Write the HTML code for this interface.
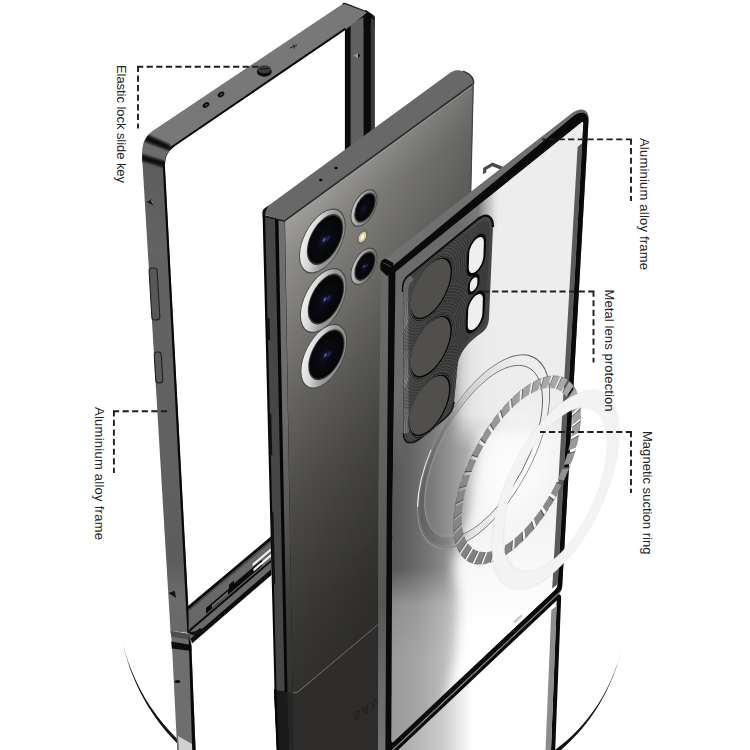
<!DOCTYPE html>
<html><head><meta charset="utf-8"><title>Case parts</title>
<style>
html,body{margin:0;padding:0;background:#fff;}
body{width:750px;height:750px;overflow:hidden;}
svg{display:block;}
text{font-family:"Liberation Sans",sans-serif;fill:#242424;}
</style></head><body>
<svg width="750" height="750" viewBox="0 0 750 750">
<defs>
<linearGradient id="gLeftBar" x1="0" y1="150" x2="0" y2="632" gradientUnits="userSpaceOnUse">
 <stop offset="0" stop-color="#5c5c5c"/><stop offset="0.2" stop-color="#626262"/><stop offset="0.62" stop-color="#616161"/><stop offset="0.85" stop-color="#5c5c5c"/><stop offset="0.93" stop-color="#6c6c6c"/><stop offset="1" stop-color="#686868"/>
</linearGradient>
<linearGradient id="gBack" x1="0" y1="0" x2="0" y2="470" gradientUnits="userSpaceOnUse">
 <stop offset="0.000" stop-color="#a2a19e"/><stop offset="0.047" stop-color="#969592"/><stop offset="0.085" stop-color="#8d8c89"/><stop offset="0.119" stop-color="#8a8986"/><stop offset="0.245" stop-color="#797875"/><stop offset="0.394" stop-color="#646360"/><stop offset="0.611" stop-color="#4c4b48"/><stop offset="0.870" stop-color="#383734"/><stop offset="1.000" stop-color="#32312e"/>
</linearGradient>
<linearGradient id="gChamfer" x1="0" y1="220" x2="0" y2="690" gradientUnits="userSpaceOnUse">
 <stop offset="0" stop-color="#707070"/><stop offset="0.4" stop-color="#6c6c6c"/><stop offset="0.6" stop-color="#5a5a5a"/><stop offset="0.81" stop-color="#3c3c3c"/><stop offset="1" stop-color="#323232"/>
</linearGradient>
<linearGradient id="gBackO" x1="0" y1="0" x2="245" y2="0" gradientUnits="userSpaceOnUse">
 <stop offset="0" stop-color="#000" stop-opacity="0"/><stop offset="1" stop-color="#000" stop-opacity="0.306"/>
</linearGradient>
<linearGradient id="gCaseHi" x1="392" y1="0" x2="584" y2="0" gradientUnits="userSpaceOnUse">
 <stop offset="0" stop-color="#565656"/><stop offset="0.105" stop-color="#666"/><stop offset="0.21" stop-color="#7b7b7b"/><stop offset="0.276" stop-color="#8c8c8c"/><stop offset="0.333" stop-color="#9b9b9b"/><stop offset="0.43" stop-color="#b6b6b6"/><stop offset="0.56" stop-color="#d4d4d4"/><stop offset="1" stop-color="#e4e4e4"/>
</linearGradient>
<linearGradient id="gCaseLo" x1="392" y1="0" x2="584" y2="0" gradientUnits="userSpaceOnUse">
 <stop offset="0" stop-color="#9a9a9a"/><stop offset="0.14" stop-color="#a5a5a5"/><stop offset="0.245" stop-color="#b6b6b6"/><stop offset="0.315" stop-color="#c4c4c4"/><stop offset="0.42" stop-color="#d6d6d6"/><stop offset="1" stop-color="#e8e8e8"/>
</linearGradient>
<linearGradient id="gMaskLo" x1="0" y1="568" x2="0" y2="655" gradientUnits="userSpaceOnUse">
 <stop offset="0" stop-color="#000"/><stop offset="0.42" stop-color="#cfcfcf"/><stop offset="1" stop-color="#fff"/>
</linearGradient>
<mask id="mLo" maskUnits="userSpaceOnUse" x="380" y="90" width="220" height="680"><rect x="380" y="90" width="220" height="680" fill="url(#gMaskLo)"/></mask>
<linearGradient id="gMaskTop" x1="0" y1="415" x2="0" y2="450" gradientUnits="userSpaceOnUse">
 <stop offset="0" stop-color="#fff"/><stop offset="1" stop-color="#000"/>
</linearGradient>
<mask id="mTop" maskUnits="userSpaceOnUse" x="380" y="90" width="220" height="680"><rect x="380" y="90" width="220" height="680" fill="url(#gMaskTop)"/></mask>
<linearGradient id="gCaseTopH" x1="448" y1="0" x2="500" y2="0" gradientUnits="userSpaceOnUse">
 <stop offset="0" stop-color="#a8a8a8" stop-opacity="0"/><stop offset="0.2" stop-color="#c4c4c4" stop-opacity="0.9"/><stop offset="0.3" stop-color="#d6d6d6"/><stop offset="0.45" stop-color="#e4e4e4"/><stop offset="0.7" stop-color="#ebebeb"/><stop offset="1" stop-color="#ededed"/>
</linearGradient>
<linearGradient id="gWedge" x1="0" y1="520" x2="0" y2="630" gradientUnits="userSpaceOnUse">
 <stop offset="0" stop-color="#f3f3f3"/><stop offset="1" stop-color="#ffffff"/>
</linearGradient>
<filter id="blur6" x="-30%" y="-10%" width="160%" height="120%"><feGaussianBlur stdDeviation="5.8"/></filter>
<radialGradient id="gGlow" cx="0.5" cy="0.5" r="0.5">
 <stop offset="0" stop-color="#fff" stop-opacity="0.9"/><stop offset="0.55" stop-color="#fff" stop-opacity="0.5"/><stop offset="1" stop-color="#fff" stop-opacity="0"/>
</radialGradient>
<linearGradient id="gRefl" x1="405" y1="0" x2="560" y2="0" gradientUnits="userSpaceOnUse">
 <stop offset="0" stop-color="#adadad"/><stop offset="0.24" stop-color="#cbcbcb"/><stop offset="0.37" stop-color="#ededed"/><stop offset="0.43" stop-color="#fefefe"/><stop offset="1" stop-color="#ffffff"/>
</linearGradient>
<radialGradient id="gLens" cx="0.45" cy="0.5" r="0.55">
 <stop offset="0" stop-color="#15182c"/><stop offset="0.3" stop-color="#0a0b12"/><stop offset="1" stop-color="#050505"/>
</radialGradient>
<linearGradient id="gSilver" x1="0" y1="0.3" x2="1" y2="0.7">
 <stop offset="0" stop-color="#f2f2f2"/><stop offset="0.3" stop-color="#d8d8d8"/><stop offset="0.6" stop-color="#9a9a9a"/><stop offset="1" stop-color="#8a8a8a"/>
</linearGradient>
<linearGradient id="gSilver2" x1="0" y1="0.3" x2="1" y2="0.7">
 <stop offset="0" stop-color="#c8c8c8"/><stop offset="0.4" stop-color="#a0a0a0"/><stop offset="1" stop-color="#6e6e6e"/>
</linearGradient>
<linearGradient id="gBand" x1="392" y1="0" x2="500" y2="0" gradientUnits="userSpaceOnUse">
 <stop offset="0" stop-color="#6c6c6c"/><stop offset="0.6" stop-color="#6a6a6a"/><stop offset="0.8" stop-color="#7a7a7a"/><stop offset="0.92" stop-color="#b8b8b8" stop-opacity="0.6"/><stop offset="1" stop-color="#e6e6e6" stop-opacity="0"/>
</linearGradient>
<linearGradient id="gBandL" x1="0" y1="400" x2="0" y2="470" gradientUnits="userSpaceOnUse">
 <stop offset="0" stop-color="#6c6c6c"/><stop offset="1" stop-color="#6c6c6c" stop-opacity="0"/>
</linearGradient>
<linearGradient id="gEng" x1="-86" y1="0" x2="86" y2="0" gradientUnits="userSpaceOnUse">
 <stop offset="0" stop-color="#9a9a9a"/><stop offset="0.3" stop-color="#8a8a8a"/><stop offset="0.5" stop-color="#777"/><stop offset="1" stop-color="#5a5a5a"/>
</linearGradient>
<linearGradient id="gAnn" x1="-84" y1="0" x2="40" y2="0" gradientUnits="userSpaceOnUse">
 <stop offset="0" stop-color="#000" stop-opacity="0.13"/><stop offset="0.5" stop-color="#000" stop-opacity="0.08"/><stop offset="1" stop-color="#000" stop-opacity="0"/>
</linearGradient>
<linearGradient id="gProt" x1="403" y1="0" x2="493" y2="0" gradientUnits="userSpaceOnUse">
 <stop offset="0" stop-color="#505050"/><stop offset="0.4" stop-color="#454545"/><stop offset="1" stop-color="#3a3a3a"/>
</linearGradient>
<linearGradient id="gCaseSide" x1="0" y1="260" x2="0" y2="750" gradientUnits="userSpaceOnUse">
 <stop offset="0" stop-color="#6a6a6a"/><stop offset="0.16" stop-color="#686868"/><stop offset="0.7" stop-color="#565656"/><stop offset="0.85" stop-color="#686868"/><stop offset="1" stop-color="#747474"/>
</linearGradient>
<linearGradient id="gRing" x1="-76" y1="76" x2="60" y2="-76" gradientUnits="userSpaceOnUse">
 <stop offset="0" stop-color="#7c7c7c"/><stop offset="0.5" stop-color="#8c8c8c"/><stop offset="1" stop-color="#b0b0b0"/>
</linearGradient>
<filter id="blur05" x="-50%" y="-50%" width="200%" height="200%"><feGaussianBlur stdDeviation="0.6"/></filter>
<filter id="blur1" x="-20%" y="-40%" width="140%" height="180%"><feGaussianBlur stdDeviation="0.9"/></filter>
<filter id="blur2" x="-20%" y="-20%" width="140%" height="140%"><feGaussianBlur stdDeviation="1.2"/></filter>
<filter id="blur4" x="-30%" y="-30%" width="160%" height="160%"><feGaussianBlur stdDeviation="3"/></filter>
</defs>
<rect width="750" height="750" fill="#ffffff"/>

<g id="platform">
<path d="M123,645 C135,690 160,726 190,750 L184,750 C156,724 134,690 123,645 Z" fill="#111"/>
<path d="M623,645 C612,690 588,726 555,750 L561,750 C591,724 612,690 623,645 Z" fill="#111"/>
</g>

<g id="leftFrame">
<path d="M344.9,28 L344.9,160 L374.6,140 L374.6,16 L366,10 Z" fill="#0b0b0b"/>
<path d="M350.6,24 L363.6,17 L363.6,150 L350.6,158 Z" fill="#606060"/>
<path d="M370.8,14 L374.6,17 L374.6,140 L370.8,142 Z" fill="#3a3a3a"/>
<path d="M353.5,55.5 l4.5,2.6 l0,-5.2 z" fill="#9a9a9a"/><path d="M358,52.9 l2.4,2.6 l-2.4,2.6 z" fill="#161616"/>
<path d="M142.2,162 C141.2,141 145,135.5 157,127.9 L341.5,4.8 C342.6,3.6 344,3.2 345.5,3.7 L367.3,12 L366.7,12.9 L345.8,29.6 L176,145.3 C168,151 164.6,156 164.8,168 Z" fill="#787878"/>
<path d="M346,29.4 L176,145.3 C168,151 164.6,156 164.8,168 L162.9,168 C162.5,155 166,149.8 174.6,144 L345,27.8 Z" fill="#0a0a0a"/>
<path d="M366.7,12.9 L367.3,12 C370.5,13.2 373.5,15 374.3,18.5 L374.6,26 L363.6,26 L363.6,15.4 Z" fill="#0b0b0b"/>
<path d="M371,17.5 C372.8,18.2 374,19.5 374.6,21.5 L374.6,30 L370.8,30 Z" fill="#3a3a3a"/>
<path d="M342.8,3.9 C343.8,3.2 344.6,3.3 345.5,3.7 L367.3,12" fill="none" stroke="#1a1a1a" stroke-width="1.3"/>
<path d="M142.2,158 L164.7,164 L189.5,633 L170.5,631 Z" fill="url(#gLeftBar)"/>
<path d="M162.8,166 L164.9,166 L189.8,634 L187.4,633 Z" fill="#080808"/>
<clipPath id="clipTL"><path d="M142.2,172 C141.2,141 145,135.5 157,127.9 L190,106 L200,129 L176,145.3 C168,151 164.6,156 164.8,172 Z"/></clipPath>
<g clip-path="url(#clipTL)">
<path d="M144.4,139.6 L171.2,150 C167,152.8 165.3,156 165,162 L142.4,155 C142.6,147.7 143.4,142.4 144.4,139.6 Z" fill="#6c6c6c"/>
<path d="M145,133.5 L170,144.8 L171.5,151.6 L142.5,140.6 Z" fill="#0a0a0a" filter="url(#blur1)"/>
<path d="M141,154 L166,161.5 L165.8,168 L141,160.5 Z" fill="#0a0a0a" filter="url(#blur1)"/>
</g>
<ellipse cx="221" cy="94.4" rx="3.6" ry="2.4" fill="#0a0a0a" transform="rotate(-33 221 94.4)"/>
<ellipse cx="206" cy="105" rx="3.6" ry="2.4" fill="#0a0a0a" transform="rotate(-33 206 105)"/>
<ellipse cx="221.4" cy="94.6" rx="1.6" ry="1" fill="#444" transform="rotate(-33 221 94.4)"/>
<ellipse cx="206.4" cy="105.2" rx="1.6" ry="1" fill="#444" transform="rotate(-33 206 105)"/>
<ellipse cx="264.3" cy="71.8" rx="7.4" ry="5" fill="#0a0a0a"/>
<ellipse cx="264.3" cy="69.3" rx="6.6" ry="4" fill="#3c3c3c"/>
<path d="M259.5,69 l9.5,-0.6" stroke="#111" stroke-width="0.9"/>
<path d="M290,48 l7,-3 M293.5,44.5 l1,4" stroke="#222" stroke-width="1" fill="none"/>
<rect x="150.5" y="268" width="8" height="52" rx="3" fill="#585858" stroke="#222" stroke-width="1.1" transform="rotate(-3.4 154 294)"/>
<rect x="155" y="352" width="7" height="31" rx="3" fill="#5a5a5a" stroke="#222" stroke-width="1.1" transform="rotate(-3.4 158 367)"/>
<path d="M146.5,202 l7,3.4 l-1.4,-6.4 z" fill="#1a1a1a"/><path d="M151,201 l2.5,4.4 l-1.4,-6.4 z" fill="#8a8a8a"/>
<path d="M168.5,593 l7.5,5 l-1.2,-7.2 z" fill="#141414"/>
<path d="M188,606 L271.5,536 L271.5,575 L192,643.6 L189.5,634 Z" fill="#0b0b0b"/>
<path d="M188.6,609.4 L271.5,539.7 L271.5,559.4 L188.6,630.1 Z" fill="#686868"/>
<path d="M189.2,608.9 L271.5,539.7 L271.5,541.9 L189.2,611.1 Z" fill="#4a4a4a"/>
<path d="M190.0,631.4 L271.5,561.7 L271.5,569.1 L190.0,639.2 Z" fill="#6a6a6a"/>
<path d="M206.0,608.0 L229.0,588.4 L229.0,584.8 L234.0,580.6 L234.0,583.4 L262.0,559.7 L262.0,565.9 L206.0,613.7 Z" fill="#0a0a0a"/>
<path d="M212.0,604.9 L228.0,591.3 L228.0,594.5 L212.0,608.1 Z" fill="#6a6a6a"/>
<path d="M252.5,563.8 L270.8,548.3 L270.8,551.0 L252.5,566.5 Z" fill="#f4f4f4"/>
<path d="M253.5,568.8 L271.5,553.5 L271.5,556.3 L253.5,571.6 Z" fill="#f4f4f4"/>
</g>
<g id="leftFrameRefl">
<path d="M170.5,631 L189.8,634 C191.5,638 191.2,640 191.3,645 L195.6,750 L177.2,750 L172.2,650 C171.8,642 171.5,638 170.5,631 Z" fill="#6e6e6e"/>
<path d="M170.5,631 L189.8,634 L191,640 L171.3,636.5 Z" fill="#4e4e4e"/>
<path d="M171.3,641.5 L191.2,645 L191.4,651 L171.8,648.5 Z" fill="#0c0c0c"/>
<path d="M188.6,636 L191.3,645 L195.6,750 L192.2,750 Z" fill="#080808"/>
<path d="M189.8,634 C196,637 200,634 204,630 L200,628 C197,631 194,632.5 190,631.5 Z" fill="#111"/>
<ellipse cx="177.5" cy="681.5" rx="2.8" ry="1.5" fill="#0a0a0a"/>
<path d="M178,736 L192,744 L192.2,750 L179,750 Z" fill="#d0d0d0"/>
</g>

<g id="phone">
<path d="M274,689 L297,693 L379,624 L379,750 L277,750 Z" fill="#2e2d2b"/>
<path d="M274,689 L287.5,692 L289.5,750 L277,750 Z" fill="#1a1a1a"/>
<path d="M274,689 L276.3,689.5 L279,750 L276.6,750 Z" fill="#060606"/>
<path d="M287.5,692 L292.5,693 L294,750 L289.5,750 Z" fill="#262626"/>
<clipPath id="clipBack"><path d="M284.5,220.5 L472.5,84.3 L473.5,86 L470.7,200 L392,262 L379.5,624 L297,693 L292,692 Z"/></clipPath>
<g clip-path="url(#clipBack)"><g transform="matrix(0.823,-0.568,0.015,1,284.7,220.5)"><rect x="-10" y="-20" width="270" height="520" fill="url(#gBack)"/><rect x="-10" y="-20" width="270" height="520" fill="url(#gBackO)"/></g></g>
<path d="M293,692.6 L297,692.6 L379,623.6" fill="none" stroke="#6a6a68" stroke-width="0.9"/>
<path d="M262.6,215 L285,221 L292.5,693 L274.5,690 Z" fill="#070707"/>
<path d="M265.1,217 L275,219.5 L284.6,691.6 L276.5,690.3 Z" fill="#464646"/>
<path d="M278.5,220.5 L284.7,221 L292.5,693 L287.5,692.2 Z" fill="url(#gChamfer)"/>
<path d="M267.3,318 l2.2,0.4 l0.6,22 l-2.2,-0.4 z" fill="#111"/>
<path d="M268.8,413 l2.4,0.4 l1.1,42 l-2.4,-0.4 z" fill="#111"/>
<path d="M270.8,512 l2.6,0.4 l1.9,72 l-2.6,-0.4 z" fill="#111"/>
<path d="M262.6,214 C262.2,211 263,209.5 265.5,207.8 L450.5,72.6 C455,69.8 459,70 463,71.2 C468,72.8 472,75.5 473.3,80 C474,83 473.6,84.5 472.5,85.2 L285,221.3 Z" fill="#686868"/>
<path d="M262.6,217 C262.2,211 263,209.5 265.5,207.8 L268.5,205.6 L266.5,209.5 C265.5,211 265.2,213 265.3,216 Z" fill="#111"/>
<path d="M263.3,215.4 L285.4,221.4" fill="none" stroke="#1c1c1c" stroke-width="1.4"/>
<path d="M285.2,220.4 L472.3,84.4" fill="none" stroke="#2c2c2c" stroke-width="1.7"/>
<path d="M286,221.9 L472.6,86.1" fill="none" stroke="#a2a2a0" stroke-width="0.7"/>
<path d="M463,71.2 C468,72.8 472,75.5 473.3,80 C474,83 473.6,84.5 472.5,85.2" fill="none" stroke="#333" stroke-width="1.4"/>
<ellipse cx="320.7" cy="180" rx="1.7" ry="1.25" fill="#050505"/><ellipse cx="336" cy="168" rx="1.7" ry="1.25" fill="#050505"/>
<path d="M473.2,85.5 L470.6,199" stroke="#444" stroke-width="1.2"/>
<g transform="matrix(0.823,-0.568,0.02,1,322.4,241)"><circle r="28.3" fill="#4a4a48"/><circle r="27.2" fill="url(#gSilver)"/><circle cx="3.2" cy="0.3" r="22.1" fill="#3a3a3a"/><circle cx="3.2" cy="0.3" r="20.8" fill="url(#gLens)"/><circle cx="2.0" cy="0" r="1.7680000000000002" fill="#5a66d8" opacity="0.9" filter="url(#blur05)"/><circle cx="6.5280000000000005" cy="1.2" r="2.496" fill="#2c348c" opacity="0.6" filter="url(#blur05)"/></g>
<g transform="matrix(0.823,-0.568,0.02,1,323.3,300.5)"><circle r="28.3" fill="#4a4a48"/><circle r="27.2" fill="url(#gSilver)"/><circle cx="3.2" cy="0.3" r="22.1" fill="#3a3a3a"/><circle cx="3.2" cy="0.3" r="20.8" fill="url(#gLens)"/><circle cx="2.0" cy="0" r="1.7680000000000002" fill="#5a66d8" opacity="0.9" filter="url(#blur05)"/><circle cx="6.5280000000000005" cy="1.2" r="2.496" fill="#2c348c" opacity="0.6" filter="url(#blur05)"/></g>
<g transform="matrix(0.823,-0.568,0.02,1,323.8,356.3)"><circle r="28.3" fill="#4a4a48"/><circle r="27.2" fill="url(#gSilver)"/><circle cx="3.2" cy="0.3" r="22.1" fill="#3a3a3a"/><circle cx="3.2" cy="0.3" r="20.8" fill="url(#gLens)"/><circle cx="2.0" cy="0" r="1.7680000000000002" fill="#5a66d8" opacity="0.9" filter="url(#blur05)"/><circle cx="6.5280000000000005" cy="1.2" r="2.496" fill="#2c348c" opacity="0.6" filter="url(#blur05)"/></g>
<g transform="matrix(0.823,-0.568,0.02,1,364,208)"><circle r="16.400000000000002" fill="#4a4a48"/><circle r="15.3" fill="url(#gSilver2)"/><circle cx="1.2" cy="0.3" r="13.100000000000001" fill="#3a3a3a"/><circle cx="1.2" cy="0.3" r="11.8" fill="url(#gLens)"/></g>
<g transform="matrix(0.823,-0.568,0.02,1,364,266.4)"><circle r="16.400000000000002" fill="#4a4a48"/><circle r="15.3" fill="url(#gSilver2)"/><circle cx="1.2" cy="0.3" r="12.9" fill="#3a3a3a"/><circle cx="1.2" cy="0.3" r="11.6" fill="url(#gLens)"/><circle cx="0.0" cy="0" r="1.0" fill="#5a66d8" opacity="0.9" filter="url(#blur05)"/><circle cx="3.056" cy="1.2" r="1.392" fill="#2c348c" opacity="0.6" filter="url(#blur05)"/></g>
<g transform="matrix(0.823,-0.568,0.02,1,362.4,237)"><circle r="6.8" fill="#6c6c66"/><circle r="4.6" fill="#d8d2a0"/><circle r="2.2" fill="#fff8d8"/></g>
<text transform="matrix(0.823,-0.568,0.015,1,352,566.5)" font-size="13.5" font-weight="700" font-style="italic" style="fill:#35332f" letter-spacing="1.2">SAMSUNG</text>
<text transform="matrix(0.823,-0.568,-0.015,-1,353,713.5)" font-size="13.5" font-weight="700" font-style="italic" style="fill:#242321" letter-spacing="1.2">SAMSUNG</text>
</g>
<clipPath id="clipCase"><path d="M395.5,271.9 L581.5,122.2 Q583.5,120.8 583.3,124 L557.8,584 Q557.5,587.5 555,590 L394,741.5 Q391.2,744 391.2,740 L392.5,500 Z"/></clipPath>
<g id="case">
<path d="M483,174.3 L483.2,168 L492.5,162.4 L503.5,167 L500.5,169.5 L492.3,166.2 L486.3,169.8 L486.2,172.5 Z" fill="#484848"/>
<path d="M395.5,271.9 L581.5,122.2 Q583.5,120.8 583.3,124 L557.8,584 Q557.5,587.5 555,590 L394,741.5 Q391.2,744 391.2,740 L392.5,500 Z" fill="url(#gCaseHi)"/>
<g clip-path="url(#clipCase)">
<rect x="385" y="100" width="210" height="660" fill="url(#gCaseLo)" mask="url(#mLo)"/>
<rect x="446" y="100" width="154" height="360" fill="url(#gCaseTopH)" mask="url(#mTop)"/>
<path d="M481,430 L472,504 L453,566 L459,604 L456,654 L446,705 L446,760 L600,760 L600,430 Z" fill="url(#gWedge)" filter="url(#blur6)"/>
<path d="M392,266 L500,180 L497,228 L404,300 L404,400 L391,400 Z" fill="url(#gBand)"/>
<path d="M391,400 L404,400 L404,470 L391,470 Z" fill="url(#gBandL)"/>
<ellipse cx="512" cy="470" rx="48" ry="74" fill="url(#gGlow)" transform="rotate(20 512 470)"/>
<g transform="matrix(0.789,-0.615,-0.059,0.998,483.6,451.4)"><ellipse rx="79" ry="77.5" fill="none" stroke="url(#gAnn)" stroke-width="9"/><ellipse rx="83.5" ry="82" fill="none" stroke="url(#gEng)" stroke-width="1"/><ellipse rx="81.8" ry="80.3" fill="none" stroke="#fff" stroke-width="0.9" opacity="0.14"/><path d="M-83.4,4 A83.5,82 0 0 1 -70,-44.7" fill="none" stroke="#fff" stroke-width="1.6" opacity="0.85"/><ellipse rx="74.5" ry="73" fill="none" stroke="url(#gEng)" stroke-width="0.9"/><ellipse rx="73" ry="71.5" fill="none" stroke="#fff" stroke-width="0.7" opacity="0.1"/></g>
<path d="M583.4,142 L557.9,584 L552.2,588.5 L577.6,147 Z" fill="#5a5a5a"/>
</g>
<g id="lensProt">
<path d="M403,292 C402.5,283 404,279 410,274.5 L478,219 C487,212.5 493,216 493,227 L489,318 C488.5,326 486,330 480,334 C470,341 461,350 458,362 L454,402 C453,410 450,414 444,419 L420,438.5 C410,446 403.5,443 403.5,433 Z" fill="#454545"/>
<path d="M403,292 C402.5,283 404,279 410,274.5 L478,219 C487,212.5 493,216 493,227" fill="none" stroke="#0c0c0c" stroke-width="2.2"/>
<path d="M403.5,433 C403.5,443 410,446 420,438.5 L444,419 C450,414 453,410 454,402" fill="none" stroke="#141414" stroke-width="1.8"/>
<clipPath id="clipProt"><path d="M403,292 C402.5,283 404,279 410,274.5 L478,219 C487,212.5 493,216 493,227 L489,318 C488.5,326 486,330 480,334 C470,341 461,350 458,362 L454,402 C453,410 450,414 444,419 L420,438.5 C410,446 403.5,443 403.5,433 Z"/></clipPath>
<g clip-path="url(#clipProt)">
<path d="M406.2,293 C405.7,285 407.2,281.5 412,278 L478,224 C485.5,218.5 489.8,221 489.8,229 L485.8,318 C485.3,324 483.3,327.5 478.3,331 C467.3,338.5 458.3,348 455.3,361 L451.3,401 C450.3,407.5 447.8,411 442.3,415.5 L420,433.8 C411.5,440.3 406.7,438.3 406.7,430.3 Z" fill="url(#gProt)"/>
<path d="M403.3,293 C403,284 404.5,280 410,275.5 L414,279.5 C409.5,283 408,286 408.2,293 L408.7,432 L404,434 Z" fill="#868686"/>
<g transform="matrix(0.789,-0.615,-0.03,0.998,431.5,288.5)"><circle r="29.5" fill="none" stroke="#262626" stroke-width="0.9" opacity="0.5"/><circle r="30.7" fill="none" stroke="#6a6a6a" stroke-width="0.5" opacity="0.4"/></g>
<g transform="matrix(0.789,-0.615,-0.03,0.998,431.5,288.5)"><circle r="32.0" fill="none" stroke="#262626" stroke-width="0.9" opacity="0.5"/><circle r="33.2" fill="none" stroke="#6a6a6a" stroke-width="0.5" opacity="0.4"/></g>
<g transform="matrix(0.789,-0.615,-0.03,0.998,431.5,288.5)"><circle r="34.5" fill="none" stroke="#262626" stroke-width="0.9" opacity="0.5"/><circle r="35.7" fill="none" stroke="#6a6a6a" stroke-width="0.5" opacity="0.4"/></g>
<g transform="matrix(0.789,-0.615,-0.03,0.998,431.5,288.5)"><circle r="37.0" fill="none" stroke="#262626" stroke-width="0.9" opacity="0.5"/><circle r="38.2" fill="none" stroke="#6a6a6a" stroke-width="0.5" opacity="0.4"/></g>
<g transform="matrix(0.789,-0.615,-0.03,0.998,431.5,288.5)"><circle r="39.5" fill="none" stroke="#262626" stroke-width="0.9" opacity="0.5"/><circle r="40.7" fill="none" stroke="#6a6a6a" stroke-width="0.5" opacity="0.4"/></g>
<g transform="matrix(0.789,-0.615,-0.03,0.998,431.5,288.5)"><circle r="42.0" fill="none" stroke="#262626" stroke-width="0.9" opacity="0.5"/><circle r="43.2" fill="none" stroke="#6a6a6a" stroke-width="0.5" opacity="0.4"/></g>
<g transform="matrix(0.789,-0.615,-0.03,0.998,431.5,288.5)"><circle r="44.5" fill="none" stroke="#262626" stroke-width="0.9" opacity="0.5"/><circle r="45.7" fill="none" stroke="#6a6a6a" stroke-width="0.5" opacity="0.4"/></g>
<g transform="matrix(0.789,-0.615,-0.03,0.998,431.5,288.5)"><circle r="47.0" fill="none" stroke="#262626" stroke-width="0.9" opacity="0.5"/><circle r="48.2" fill="none" stroke="#6a6a6a" stroke-width="0.5" opacity="0.4"/></g>
<g transform="matrix(0.789,-0.615,-0.03,0.998,431.5,288.5)"><circle r="49.5" fill="none" stroke="#262626" stroke-width="0.9" opacity="0.5"/><circle r="50.7" fill="none" stroke="#6a6a6a" stroke-width="0.5" opacity="0.4"/></g>
<g transform="matrix(0.789,-0.615,-0.03,0.998,431.5,288.5)"><circle r="52.0" fill="none" stroke="#262626" stroke-width="0.9" opacity="0.5"/><circle r="53.2" fill="none" stroke="#6a6a6a" stroke-width="0.5" opacity="0.4"/></g>
<g transform="matrix(0.789,-0.615,-0.03,0.998,431.3,346.8)"><circle r="29.5" fill="none" stroke="#262626" stroke-width="0.9" opacity="0.5"/><circle r="30.7" fill="none" stroke="#6a6a6a" stroke-width="0.5" opacity="0.4"/></g>
<g transform="matrix(0.789,-0.615,-0.03,0.998,431.3,346.8)"><circle r="32.0" fill="none" stroke="#262626" stroke-width="0.9" opacity="0.5"/><circle r="33.2" fill="none" stroke="#6a6a6a" stroke-width="0.5" opacity="0.4"/></g>
<g transform="matrix(0.789,-0.615,-0.03,0.998,431.3,346.8)"><circle r="34.5" fill="none" stroke="#262626" stroke-width="0.9" opacity="0.5"/><circle r="35.7" fill="none" stroke="#6a6a6a" stroke-width="0.5" opacity="0.4"/></g>
<g transform="matrix(0.789,-0.615,-0.03,0.998,431.3,346.8)"><circle r="37.0" fill="none" stroke="#262626" stroke-width="0.9" opacity="0.5"/><circle r="38.2" fill="none" stroke="#6a6a6a" stroke-width="0.5" opacity="0.4"/></g>
<g transform="matrix(0.789,-0.615,-0.03,0.998,431.3,346.8)"><circle r="39.5" fill="none" stroke="#262626" stroke-width="0.9" opacity="0.5"/><circle r="40.7" fill="none" stroke="#6a6a6a" stroke-width="0.5" opacity="0.4"/></g>
<g transform="matrix(0.789,-0.615,-0.03,0.998,431.3,346.8)"><circle r="42.0" fill="none" stroke="#262626" stroke-width="0.9" opacity="0.5"/><circle r="43.2" fill="none" stroke="#6a6a6a" stroke-width="0.5" opacity="0.4"/></g>
<g transform="matrix(0.789,-0.615,-0.03,0.998,431.3,346.8)"><circle r="44.5" fill="none" stroke="#262626" stroke-width="0.9" opacity="0.5"/><circle r="45.7" fill="none" stroke="#6a6a6a" stroke-width="0.5" opacity="0.4"/></g>
<g transform="matrix(0.789,-0.615,-0.03,0.998,431.3,346.8)"><circle r="47.0" fill="none" stroke="#262626" stroke-width="0.9" opacity="0.5"/><circle r="48.2" fill="none" stroke="#6a6a6a" stroke-width="0.5" opacity="0.4"/></g>
<g transform="matrix(0.789,-0.615,-0.03,0.998,431.3,346.8)"><circle r="49.5" fill="none" stroke="#262626" stroke-width="0.9" opacity="0.5"/><circle r="50.7" fill="none" stroke="#6a6a6a" stroke-width="0.5" opacity="0.4"/></g>
<g transform="matrix(0.789,-0.615,-0.03,0.998,431.3,346.8)"><circle r="52.0" fill="none" stroke="#262626" stroke-width="0.9" opacity="0.5"/><circle r="53.2" fill="none" stroke="#6a6a6a" stroke-width="0.5" opacity="0.4"/></g>
<g transform="matrix(0.789,-0.615,-0.03,0.998,430.5,407)"><circle r="29.5" fill="none" stroke="#262626" stroke-width="0.9" opacity="0.5"/><circle r="30.7" fill="none" stroke="#6a6a6a" stroke-width="0.5" opacity="0.4"/></g>
<g transform="matrix(0.789,-0.615,-0.03,0.998,430.5,407)"><circle r="32.0" fill="none" stroke="#262626" stroke-width="0.9" opacity="0.5"/><circle r="33.2" fill="none" stroke="#6a6a6a" stroke-width="0.5" opacity="0.4"/></g>
<g transform="matrix(0.789,-0.615,-0.03,0.998,430.5,407)"><circle r="34.5" fill="none" stroke="#262626" stroke-width="0.9" opacity="0.5"/><circle r="35.7" fill="none" stroke="#6a6a6a" stroke-width="0.5" opacity="0.4"/></g>
<g transform="matrix(0.789,-0.615,-0.03,0.998,430.5,407)"><circle r="37.0" fill="none" stroke="#262626" stroke-width="0.9" opacity="0.5"/><circle r="38.2" fill="none" stroke="#6a6a6a" stroke-width="0.5" opacity="0.4"/></g>
<g transform="matrix(0.789,-0.615,-0.03,0.998,430.5,407)"><circle r="39.5" fill="none" stroke="#262626" stroke-width="0.9" opacity="0.5"/><circle r="40.7" fill="none" stroke="#6a6a6a" stroke-width="0.5" opacity="0.4"/></g>
<g transform="matrix(0.789,-0.615,-0.03,0.998,430.5,407)"><circle r="42.0" fill="none" stroke="#262626" stroke-width="0.9" opacity="0.5"/><circle r="43.2" fill="none" stroke="#6a6a6a" stroke-width="0.5" opacity="0.4"/></g>
<g transform="matrix(0.789,-0.615,-0.03,0.998,430.5,407)"><circle r="44.5" fill="none" stroke="#262626" stroke-width="0.9" opacity="0.5"/><circle r="45.7" fill="none" stroke="#6a6a6a" stroke-width="0.5" opacity="0.4"/></g>
<g transform="matrix(0.789,-0.615,-0.03,0.998,430.5,407)"><circle r="47.0" fill="none" stroke="#262626" stroke-width="0.9" opacity="0.5"/><circle r="48.2" fill="none" stroke="#6a6a6a" stroke-width="0.5" opacity="0.4"/></g>
<g transform="matrix(0.789,-0.615,-0.03,0.998,430.5,407)"><circle r="49.5" fill="none" stroke="#262626" stroke-width="0.9" opacity="0.5"/><circle r="50.7" fill="none" stroke="#6a6a6a" stroke-width="0.5" opacity="0.4"/></g>
<g transform="matrix(0.789,-0.615,-0.03,0.998,430.5,407)"><circle r="52.0" fill="none" stroke="#262626" stroke-width="0.9" opacity="0.5"/><circle r="53.2" fill="none" stroke="#6a6a6a" stroke-width="0.5" opacity="0.4"/></g>
</g>
<g transform="matrix(0.789,-0.615,-0.03,0.998,431.5,288.5)"><circle r="27.6" fill="#060606"/><circle r="26.8" fill="none" stroke="#6a6a6a" stroke-width="0.7"/><circle cx="-1" cy="-0.8" r="25.200000000000003" fill="#504f4c"/></g>
<g transform="matrix(0.789,-0.615,-0.03,0.998,431.3,346.8)"><circle r="27.6" fill="#060606"/><circle r="26.8" fill="none" stroke="#6a6a6a" stroke-width="0.7"/><circle cx="-1" cy="-0.8" r="25.200000000000003" fill="#504f4c"/></g>
<g transform="matrix(0.789,-0.615,-0.03,0.998,430,405.5)"><circle r="27.6" fill="#060606"/><circle r="26.8" fill="none" stroke="#6a6a6a" stroke-width="0.7"/><circle cx="-1" cy="-0.8" r="25.200000000000003" fill="#504f4c"/></g>
<g transform="matrix(0.789,-0.615,-0.03,0.998,476.3,255)"><rect x="-12.100000000000001" y="-19.3" width="24.200000000000003" height="38.6" rx="12.100000000000001" fill="#070707"/><rect x="-9.3" y="-16.5" width="18.6" height="33.0" rx="9.3" fill="#efefef"/></g>
<g transform="matrix(0.789,-0.615,-0.03,0.998,473.6,284.3)"><rect x="-7.6" y="-9.1" width="15.2" height="18.2" rx="7.6" fill="#070707"/><rect x="-4.8" y="-6.3" width="9.6" height="12.6" rx="4.8" fill="#efefef"/></g>
<g transform="matrix(0.789,-0.615,-0.03,0.998,475.3,312)"><rect x="-12.100000000000001" y="-19.3" width="24.200000000000003" height="38.6" rx="12.100000000000001" fill="#070707"/><rect x="-9.3" y="-16.5" width="18.6" height="33.0" rx="9.3" fill="#efefef"/></g>
</g>
<g id="caseFrame">
<path fill-rule="evenodd" fill="url(#gCaseSide)" d="M381,269 C380.3,264 381.5,261.5 384,259.6 L573,112.5 C581,107 589.5,109 588.6,120 L562.3,584 C562.2,589 561,591.5 558,593.4 L398,744.2 L391.8,750 L378,750 L378.3,500 Z M395.5,271.9 L581.5,122.2 Q583.5,120.8 583.3,124 L557.8,584 Q557.5,587.5 555,590 L394,741.5 Q391.2,744 391.2,740 L392.5,500 Z"/>
<path d="M384,259.6 L573,112.5 L576,114.0 L390,268.3 Z" fill="#707070"/>
<path fill-rule="evenodd" fill="#0a0a0a" d="M388.5,280 C388.2,272 388.6,270 391,267.5 L574.5,115.2 C582,110.5 589,112.5 588.4,122 L562.3,584 C562.2,589 561,591.5 558,593.4 L398,744.2 L391.8,750 L385.4,750 L386.8,500 Z M395.5,271.9 L581.5,122.2 Q583.5,120.8 583.3,124 L557.8,584 Q557.5,587.5 555,590 L394,741.5 Q391.2,744 391.2,740 L392.5,500 Z"/>
<path d="M380.6,270 C379.5,263 381,259.5 385.5,258.8 L393.5,263 L392.8,272.5 L387,276 Z" fill="#090909"/>
<path d="M383,262.5 L391,266.5" stroke="#555" stroke-width="0.8"/>
</g>
</g>
<g transform="matrix(0.789,-0.615,-0.059,0.998,517,470)">
<circle r="75.2" fill="none" stroke="url(#gRing)" stroke-width="10.4" stroke-dasharray="10.5 2.624" />
<circle r="75.2" fill="none" stroke="#3c3c3c" stroke-width="10.4" stroke-dasharray="0.9 12.224" opacity="0.75"/>
<circle r="80.4" fill="none" stroke="#3a3a3a" stroke-width="0.6" opacity="0.5" stroke-dasharray="10.5 2.624"/>
</g>
<g transform="matrix(0.789,-0.615,-0.059,0.998,555.3,489.7)">
<ellipse rx="73" ry="79" fill="none" stroke="#9a9a9a" stroke-width="14.6" opacity="0.28" filter="url(#blur2)"/>
<ellipse rx="73" ry="79" fill="none" stroke="#f3f3f3" stroke-width="14"/>
</g>
<g id="caseRefl">
<path d="M556.8,600.5 L551,750 L398.2,750 Z" fill="url(#gRefl)"/>
<path d="M559.5,591.7 L560.5,592.5 L393.3,750 L391.8,750 Z" fill="#7a7a7a"/>
<path d="M558.5,594.2 C560.5,594 561.3,595.5 561.1,599 L555.2,750 L551,750 L556.7,600.6 L398.2,750 L393.3,750 Z" fill="#0a0a0a"/>
<path d="M556.7,606 L551,750 L545.5,750 L551.3,610 Z" fill="#8c8c8c"/>
<path d="M513.5,621.5 l7.5,-6.8 l1.6,1.4 l-7.5,6.8 z" fill="#cfcfcf" stroke="#aaa" stroke-width="0.4"/>
</g>
<g id="labels">
<text transform="translate(117,65) rotate(90)" font-size="13.0" textLength="118" lengthAdjust="spacing">Elastic lock slide key</text>
<text transform="translate(95.4,407) rotate(90)" font-size="13.0" textLength="133" lengthAdjust="spacing">Aluminium alloy frame</text>
<text transform="translate(639.6,138) rotate(90)" font-size="13.0" textLength="132" lengthAdjust="spacing">Aluminium alloy frame</text>
<text transform="translate(605.3,289.5) rotate(90)" font-size="13.0" textLength="122" lengthAdjust="spacing">Metal lens protection</text>
<text transform="translate(642.6,431) rotate(90)" font-size="13.0" textLength="123.4" lengthAdjust="spacing">Magnetic suction ring</text>
<path d="M137.05,66.8 L259,66.8 M138,65.85 L138,128.6" fill="none" stroke="#1e1e1e" stroke-width="1.9" stroke-dasharray="6.2 3.4"/>
<path d="M112.95,411.2 L167.7,411.2 M113.9,410.25 L113.9,473" fill="none" stroke="#1e1e1e" stroke-width="1.9" stroke-dasharray="6.2 3.4"/>
<path d="M631.95,139.4 L542,139.4 M631,138.45000000000002 L631,201" fill="none" stroke="#1e1e1e" stroke-width="1.9" stroke-dasharray="6.2 3.4"/>
<path d="M594.45,291.5 L482,291.5 M593.5,290.55 L593.5,362.5" fill="none" stroke="#1e1e1e" stroke-width="1.9" stroke-dasharray="6.2 3.4"/>
<path d="M631.95,432 L540,432 M631,431.05 L631,493" fill="none" stroke="#1e1e1e" stroke-width="1.9" stroke-dasharray="6.2 3.4"/>
</g>
</svg></body></html>
